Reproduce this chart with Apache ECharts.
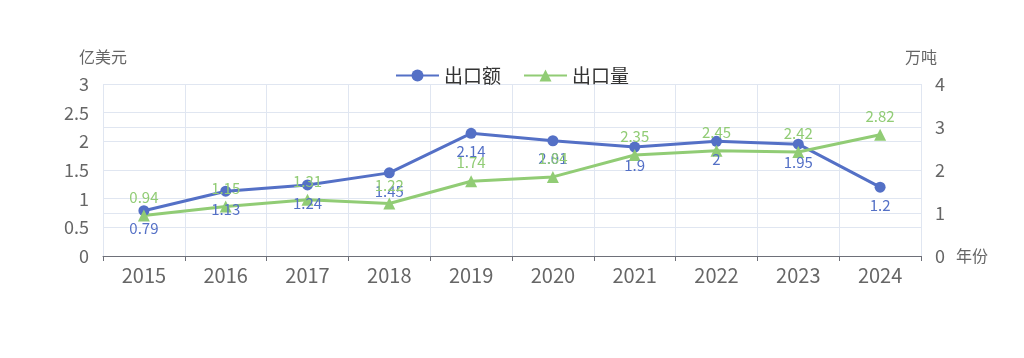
<!DOCTYPE html>
<html><head><meta charset="utf-8">
<script src="https://cdn.jsdelivr.net/npm/echarts@6/dist/echarts.min.js"></script>
<style>html,body{margin:0;padding:0;background:#fff}#c{width:1024px;height:358px}</style>
</head><body><div id="c"></div>
<script>
var years = ['2015','2016','2017','2018','2019','2020','2021','2022','2023','2024'];
var exportValue = [0.79, 1.13, 1.24, 1.45, 2.14, 2.01, 1.9, 2, 1.95, 1.2];
var exportVolume = [0.94, 1.15, 1.31, 1.22, 1.74, 1.84, 2.35, 2.45, 2.42, 2.82];
var chart = echarts.init(document.getElementById('c'));
var font = "'Microsoft YaHei','Noto Sans CJK SC',sans-serif";
chart.setOption({
  animation: false,
  textStyle: {fontFamily: font},
  color: ['#5470c6', '#91cc75'],
  legend: {
    top: 61, left: 'center', itemWidth: 43, itemHeight: 15, itemGap: 22,
    textStyle: {fontSize: 19, color: '#333'},
    data: ['出口额', '出口量']
  },
  grid: {left: 103, right: 103, top: 84, bottom: 102, containLabel: false},
  xAxis: {
    type: 'category', data: years, name: '年份', nameGap: 35,
    nameTextStyle: {fontSize: 16, color: '#666', verticalAlign: 'middle'},
    axisLine: {lineStyle: {color: '#6e7079'}},
    axisTick: {show: true, alignWithLabel: false},
    axisLabel: {fontSize: 20, color: '#666', margin: 9},
    splitLine: {show: true, lineStyle: {color: '#E0E6F1'}}
  },
  yAxis: [{
    type: 'value', min: 0, max: 3, interval: 0.5, name: '亿美元', nameGap: 19,
    nameTextStyle: {fontSize: 16, color: '#666'},
    axisLabel: {fontSize: 18, color: '#666', margin: 14},
    splitLine: {lineStyle: {color: '#E0E6F1'}}
  }, {
    type: 'value', min: 0, max: 4, interval: 1, name: '万吨', nameGap: 19,
    nameTextStyle: {fontSize: 16, color: '#666'},
    axisLabel: {fontSize: 18, color: '#666', margin: 14},
    splitLine: {lineStyle: {color: '#E0E6F1'}}
  }],
  series: [{
    name: '出口额', type: 'line', yAxisIndex: 0, data: exportValue,
    symbol: 'circle', symbolSize: 11, lineStyle: {width: 3},
    label: {show: true, position: 'bottom', fontSize: 15, color: '#5470c6', distance: 5}
  }, {
    name: '出口量', type: 'line', yAxisIndex: 1, data: exportVolume,
    symbol: 'triangle', symbolSize: 12, lineStyle: {width: 3},
    label: {show: true, position: 'top', fontSize: 15, color: '#91cc75', distance: 5}
  }]
});
</script></body></html>
